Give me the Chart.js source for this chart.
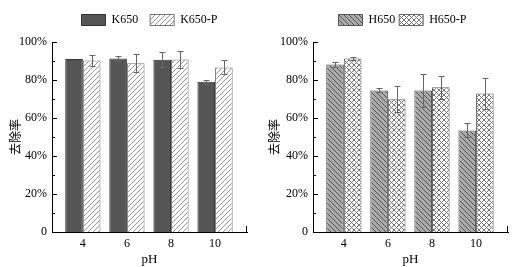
<!DOCTYPE html>
<html>
<head>
<meta charset="utf-8">
<script src="https://cdn.jsdelivr.net/npm/chart.js@4.4.1/dist/chart.umd.min.js"></script>
<style>
  body { margin: 0; background: #fff; }
  .wrap { display: flex; width: 518px; height: 267px; }
  canvas { display: block; }
</style>
</head>
<body>
<div class="wrap">
  <canvas id="left" width="259" height="267"></canvas>
  <canvas id="right" width="259" height="267"></canvas>
</div>
<script>
const phValues = [4, 6, 8, 10]
const yTicks = [0, 20, 40, 60, 80, 100]

// removal rate (%) and error bars
const k650 = [91.2, 91.4, 90.7, 79.1]
const k650Err = [0, 1.3, 3.9, 1.2]
const k650p = [90.4, 88.9, 90.9, 86.7]
const k650pErr = [2.8, 4.7, 4.7, 3.7]

const h650 = [88.3, 74.6, 74.6, 53.5]
const h650Err = [1.5, 1.1, 8.6, 3.7]
const h650p = [91.4, 70.0, 76.2, 73.0]
const h650pErr = [0.8, 6.7, 6.0, 8.3]

Chart.defaults.font.family = "'Liberation Serif', 'Times New Roman', serif"
Chart.defaults.font.size = 12
Chart.defaults.color = '#000'

function hatch(ctx, bg, fg, dirs, size) {
    const c = document.createElement('canvas')
    c.width = size
    c.height = size
    const g = c.getContext('2d')
    g.fillStyle = bg
    g.fillRect(0, 0, size, size)
    g.strokeStyle = fg
    g.lineWidth = 1
    g.beginPath()
    if (dirs.includes('/')) {
        g.moveTo(-1, size + 1); g.lineTo(size + 1, -1)
        g.moveTo(-2, 2); g.lineTo(2, -2)
        g.moveTo(size - 2, size + 2); g.lineTo(size + 2, size - 2)
    }
    if (dirs.includes('\\')) {
        g.moveTo(-1, -1); g.lineTo(size + 1, size + 1)
        g.moveTo(size - 2, -2); g.lineTo(size + 2, 2)
        g.moveTo(-2, size - 2); g.lineTo(2, size + 2)
    }
    g.stroke()
    return ctx.createPattern(c, 'repeat')
}

const errorBars = {
    id: 'errorBars',
    afterDatasetsDraw(chart) {
        const { ctx } = chart
        const y = chart.scales.y
        ctx.save()
        ctx.strokeStyle = '#666'
        ctx.lineWidth = 1
        chart.data.datasets.forEach((ds, i) => {
            const meta = chart.getDatasetMeta(i)
            meta.data.forEach((bar, j) => {
                const e = ds.errors[j]
                if (!e) return
                const v = ds.data[j].y
                const top = Math.round(y.getPixelForValue(v + e)) + 0.5
                const bot = Math.round(y.getPixelForValue(v - e)) + 0.5
                const x = Math.round(bar.x) + 0.5
                ctx.beginPath()
                ctx.moveTo(x, top); ctx.lineTo(x, bot)
                ctx.moveTo(x - 3, top); ctx.lineTo(x + 3, top)
                ctx.moveTo(x - 3, bot); ctx.lineTo(x + 3, bot)
                ctx.stroke()
            })
        })
        ctx.restore()
    }
}

const axisTicks = {
    id: 'axisTicks',
    afterDraw(chart) {
        const { ctx, chartArea } = chart
        const y = chart.scales.y
        ctx.save()
        ctx.strokeStyle = '#000'
        ctx.lineWidth = 1
        ctx.beginPath()
        for (let v = 0; v <= 100; v += 10) {
            const py = Math.round(y.getPixelForValue(v)) + 0.5
            const len = v % 20 === 0 ? 5 : 3
            ctx.moveTo(chartArea.left, py)
            ctx.lineTo(chartArea.left + len, py)
        }
        const rx = Math.round(chartArea.right) - 0.5
        ctx.moveTo(rx, chartArea.bottom)
        ctx.lineTo(rx, chartArea.bottom - 6)
        ctx.stroke()
        ctx.restore()
    }
}

// nudge the legend sideways after layout
const legendShift = {
    id: 'legendShift',
    afterLayout(chart, args, opts) {
        chart.legend.left += opts.dx
        chart.legend.right += opts.dx
    }
}

function makeChart(id, sets, yWidth, rightPad, legendPad, dx) {
    const el = document.getElementById(id)
    const ctx = el.getContext('2d')
    return new Chart(el, {
        type: 'bar',
        data: {
            datasets: sets.map(s => ({
                label: s.label,
                data: phValues.map((p, i) => ({ x: p, y: s.values[i] })),
                errors: s.errors,
                backgroundColor: s.fill(ctx),
                borderColor: s.border,
                borderWidth: 1,
                categoryPercentage: 0.8,
                barPercentage: 1.0,
            })),
        },
        options: {
            responsive: false,
            animation: false,
            layout: { padding: { left: 0, right: rightPad, top: 14 - legendPad, bottom: 0 } },
            plugins: {
                legend: {
                    position: 'top',
                    labels: {
                        boxWidth: 24,
                        boxHeight: 11,
                        padding: legendPad,
                        font: { size: 12 },
                    },
                },
                title: {
                    display: true,
                    text: ' ',
                    weight: 500,
                    font: { size: 1 },
                    padding: { top: 0, bottom: 5 },
                },
                legendShift: { dx: dx },
                tooltip: { enabled: false },
            },
            scales: {
                x: {
                    type: 'linear',
                    min: 2.6,
                    max: 11.45,
                    offset: false,
                    afterBuildTicks: scale => { scale.ticks = phValues.map(v => ({ value: v })) },
                    afterFit: scale => { scale.height = 35 },
                    grid: { display: false, drawTicks: false, tickLength: 0 },
                    border: { display: true, color: '#000', width: 1 },
                    ticks: { padding: 5, font: { size: 12 }, maxRotation: 0 },
                    title: { display: true, text: 'pH', font: { size: 13 }, padding: { top: 0, bottom: 0 } },
                },
                y: {
                    min: 0,
                    max: 100,
                    afterBuildTicks: scale => { scale.ticks = yTicks.map(v => ({ value: v })) },
                    afterFit: scale => { scale.width = yWidth },
                    grid: { display: false, drawTicks: false, tickLength: 0 },
                    border: { display: true, color: '#000', width: 1 },
                    ticks: {
                        padding: 5,
                        font: { size: 12 },
                        callback: v => v === 0 ? '0' : v + '%',
                    },
                    title: {
                        display: true,
                        text: '去除率',
                        font: { family: "'Noto Sans CJK SC', sans-serif", size: 12 },
                        padding: { top: 8, bottom: 0 },
                    },
                },
            },
        },
        plugins: [errorBars, axisTicks, legendShift],
    })
}

makeChart('left', [
    { label: 'K650', values: k650, errors: k650Err, border: '#333', fill: () => '#555' },
    { label: 'K650-P', values: k650p, errors: k650pErr, border: '#777', fill: c => hatch(c, '#fff', '#999', '/', 5) },
], 52, 12, 12, 26)

makeChart('right', [
    { label: 'H650', values: h650, errors: h650Err, border: '#555', fill: c => hatch(c, '#aaa', '#555', '\\', 5) },
    { label: 'H650-P', values: h650p, errors: h650pErr, border: '#666', fill: c => hatch(c, '#fff', '#777', '/\\', 5) },
], 54, 10, 4, 19)
</script>
</body>
</html>
